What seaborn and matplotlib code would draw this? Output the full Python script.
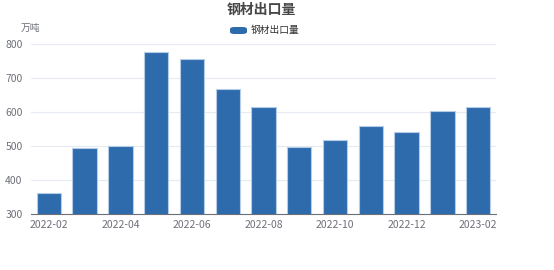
import matplotlib
matplotlib.use("Agg")
import matplotlib.pyplot as plt
import seaborn as sns
import pandas as pd
from matplotlib.ticker import FixedLocator
from matplotlib.patches import FancyBboxPatch

months = ["2022-02", "2022-03", "2022-04", "2022-05", "2022-06", "2022-07", "2022-08",
          "2022-09", "2022-10", "2022-11", "2022-12", "2023-01", "2023-02"]
export_vol = [362, 494, 498, 775, 755, 667, 615, 497, 518, 558, 540, 602, 615]
series_name = "钢材出口量"
y_unit = "万吨"
y_ticks = [300, 400, 500, 600, 700, 800]

sns.set_style("white")
plt.rcParams['font.family'] = ['Noto Sans CJK SC', 'DejaVu Sans']

df = pd.DataFrame({"month": months, "value": export_vol, "series": series_name})

fig = plt.figure(figsize=(5.54, 2.70), dpi=100)
ax = fig.add_axes([31/554, 1-214/270, (496-31)/554, (214-43.5)/270])

bar_color = "#2E6BAD"
sns.barplot(data=df, x="month", y="value", hue="series", palette=[bar_color],
            saturation=1, width=0.68, ax=ax, edgecolor="#B4CCE6", linewidth=0.8,
            legend=False, zorder=3)

ax.set_ylim(300, 800)
ax.set_xlim(-0.5, len(months) - 0.5)
ax.set_yticks(y_ticks)
ax.set_yticklabels([str(v) for v in y_ticks])
ax.grid(axis="y", color="#E6EBF3", linewidth=0.8, zorder=0)
ax.set_axisbelow(True)

label_pos = list(range(0, len(months), 2))
ax.set_xticks(label_pos)
ax.set_xticklabels([months[i] for i in label_pos])
ax.xaxis.set_minor_locator(FixedLocator([i - 0.5 for i in label_pos] + [len(months) - 0.5]))
ax.tick_params(axis="x", which="major", length=0, pad=4, labelsize=7.5, labelcolor="#6E7079")
ax.tick_params(axis="x", which="minor", length=4, width=0.8, color="#6E7079", direction="out")
ax.tick_params(axis="y", length=0, pad=6, labelsize=7.5, labelcolor="#6E7079")

for s in ["top", "right", "left"]:
    ax.spines[s].set_visible(False)
ax.spines["bottom"].set_color("#6E7079")
ax.spines["bottom"].set_linewidth(0.8)
ax.set_xlabel("")
ax.set_ylabel("")

fig.text(261/554, 1-10/270, series_name, ha="center", va="center",
         fontsize=10, fontweight="bold", color="#464646")
fig.text(30/554, 1-28/270, y_unit, ha="center", va="center", fontsize=7, color="#6E7079")

leg = FancyBboxPatch((230/554, 1-34/270), 17/554, 7/270,
                     boxstyle="round,pad=0,rounding_size=0.008", transform=fig.transFigure,
                     facecolor=bar_color, edgecolor="none")
fig.patches.append(leg)
fig.text(251/554, 1-30/270, series_name, ha="left", va="center", fontsize=7, color="#333333")

fig.savefig("out.png", dpi=100)
